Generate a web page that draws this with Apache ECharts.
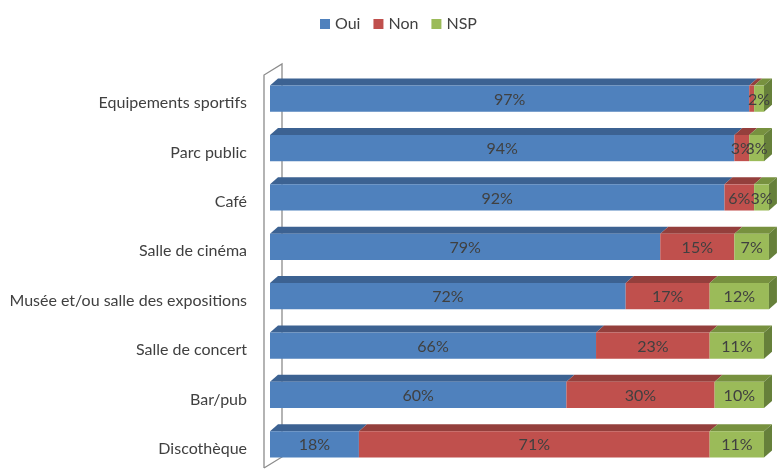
<!DOCTYPE html>
<html>
<head>
<meta charset="utf-8">
<script src="https://cdn.jsdelivr.net/npm/echarts@6/dist/echarts.min.js"></script>
<style>
  html, body { margin: 0; padding: 0; background: #fff; }
  #chart { width: 777px; height: 469px; }
</style>
</head>
<body>
<div id="chart"></div>
<script>
var categories = ['Equipements sportifs', 'Parc public', 'Café', 'Salle de cinéma',
  'Musée et/ou salle des expositions', 'Salle de concert', 'Bar/pub', 'Discothèque'];
var seriesNames = ['Oui', 'Non', 'NSP'];
var oui = [97, 94, 92, 79, 72, 66, 60, 18];
var non = [1, 3, 6, 15, 17, 23, 30, 71];
var nsp = [2, 3, 3, 7, 12, 11, 10, 11];

var values = [oui, non, nsp];
var frontColors = ['#4F81BD', '#C0504D', '#9BBB59'];
var topColors = ['#3C6292', '#943F3C', '#77913F'];
var sideColor = '#66803A';
var DX = 8, DY = -7;
var FONT = 'Lato, "Open Sans", sans-serif';

// build [start, end, category, value] for each stacked segment
function buildData(si) {
  return values[si].map(function (v, i) {
    var start = 0;
    for (var k = 0; k < si; k++) start += values[k][i];
    return [start, start + v, i, v];
  });
}

function makeRender(si) {
  return function (params, api) {
    var cat = api.value(2);
    var p0 = api.coord([api.value(0), cat]);
    var p1 = api.coord([api.value(1), cat]);
    var band = api.size([0, 1])[1];
    var h = band * 0.53;
    var top = p0[1] - h / 2, bottom = p0[1] + h / 2;
    var children = [
      { type: 'polygon', shape: { points: [[p0[0], top], [p0[0] + DX, top + DY], [p1[0] + DX, top + DY], [p1[0], top]] },
        style: { fill: topColors[si] } },
      { type: 'rect', shape: { x: p0[0], y: top, width: p1[0] - p0[0], height: h },
        style: { fill: frontColors[si] } }
    ];
    if (si === values.length - 1) {
      children.push({ type: 'polygon',
        shape: { points: [[p1[0], top], [p1[0] + DX, top + DY], [p1[0] + DX, bottom + DY], [p1[0], bottom]] },
        style: { fill: sideColor } });
    }
    if (api.value(3) >= 2) {
      children.push({ type: 'text', z2: 10,
        style: { text: api.value(3) + '%', x: (p0[0] + p1[0]) / 2, y: p0[1] + 1,
          align: 'center', verticalAlign: 'middle', fill: '#404040', fontSize: 16, fontFamily: FONT } });
    }
    return { type: 'group', children: children };
  };
}

var chart = echarts.init(document.getElementById('chart'));
var option = {
  animation: false,
  legend: {
    data: seriesNames, left: 315, top: 11, icon: 'rect', itemWidth: 10, itemHeight: 10, itemGap: 13,
    textStyle: { color: '#404040', fontSize: 16, fontFamily: FONT }
  },
  grid: { left: 270, right: 13, top: 74, bottom: -2 },
  xAxis: { type: 'value', min: 0, max: 100, show: false },
  yAxis: {
    type: 'category', data: categories, inverse: true,
    axisLine: { show: false }, axisTick: { show: false }, splitLine: { show: false },
    axisLabel: { color: '#404040', fontSize: 16, fontFamily: FONT, margin: 23,
      verticalAlign: 'top', lineHeight: 9 }
  },
  series: seriesNames.map(function (name, si) {
    return {
      type: 'custom', name: name, renderItem: makeRender(si),
      itemStyle: { color: frontColors[si] },
      encode: { x: [0, 1], y: 2 }, data: buildData(si), z: 2 + si
    };
  })
};
chart.setOption(option);

// 3D wall lines of the category axis, placed from the grid
var rect = chart.getModel().getComponent('grid').coordinateSystem.getRect();
var fx = rect.x - 6, bx = rect.x + 12;
var yTop = rect.y + 1, yBot = rect.y + rect.height - 1;
chart.setOption({
  graphic: [
    { type: 'polyline', z: 1, shape: { points: [[fx, yBot], [fx, yTop], [bx, yTop - 11], [bx, yBot - 11], [fx, yBot]] },
      style: { stroke: '#8c8c8c', lineWidth: 1.3, fill: null } }
  ]
});
</script>
</body>
</html>
